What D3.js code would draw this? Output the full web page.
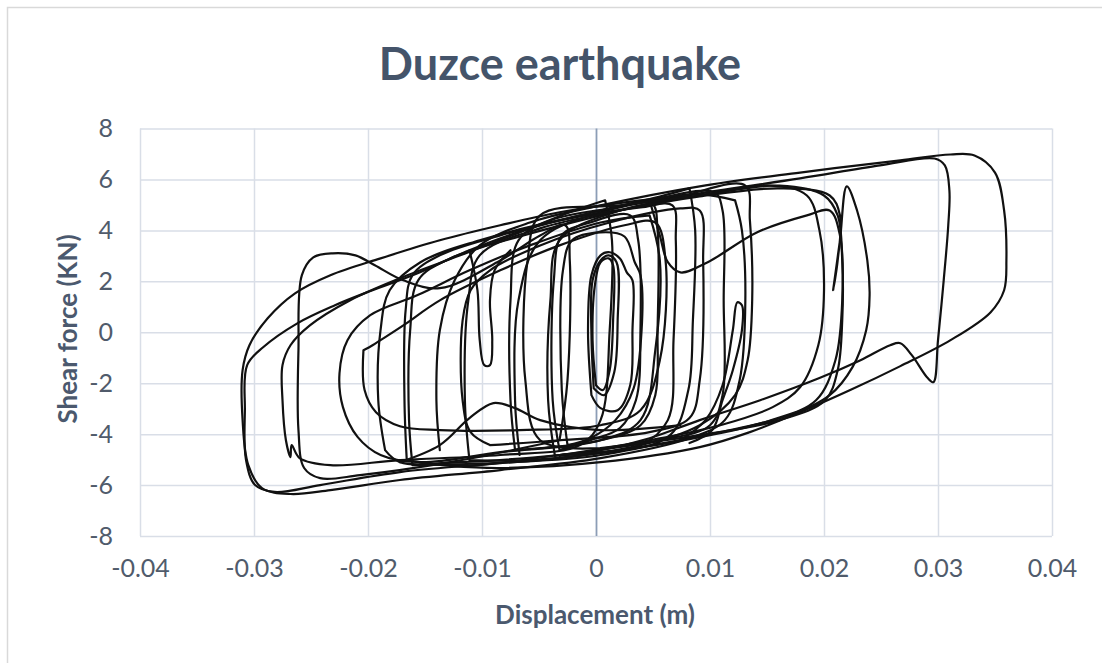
<!DOCTYPE html>
<html><head><meta charset="utf-8">
<script src="https://cdn.jsdelivr.net/npm/d3@7"></script>
<style>
html,body{margin:0;padding:0;background:#fff;}
svg{display:block;}
</style></head>
<body>
<svg id="chart" width="1102" height="663"></svg>
<script>
// ---------- data ----------
const titleText = "Duzce earthquake";
const xLabel = "Displacement (m)";
const yLabel = "Shear force (KN)";
const xTicks = [-0.04, -0.03, -0.02, -0.01, 0, 0.01, 0.02, 0.03, 0.04];
const yTicks = [-8, -6, -4, -2, 0, 2, 4, 6, 8];

// hysteresis cycles: [displacement (m), shear force (kN)]
const cycleOuterRight = [[-0.0128,-5.25],[-0.0084,-5.33],[0.0004,-5.10],[0.0091,-4.51],[0.0135,-3.92],[0.0179,-3.14],[0.0223,-2.27],[0.0267,-1.33],[0.0311,-0.31],[0.0346,0.78],[0.0358,1.65],[0.0360,2.82],[0.0358,4.78],[0.0350,6.27],[0.0332,6.94],[0.0311,6.98],[0.0267,6.75],[0.0179,6.27],[0.0091,5.73],[0.0004,4.98],[-0.0058,4.31],[-0.0102,3.41],[-0.0124,2.04],[-0.0137,0.08],[-0.0140,-2.67],[-0.0137,-4.63]];
const cycleSecondRight = [[-0.0032,-4.86],[0.0004,-4.63],[0.0047,-4.16],[0.0091,-3.45],[0.0144,-2.67],[0.0196,-1.80],[0.0232,-1.10],[0.0258,-0.51],[0.0267,-0.43],[0.0277,-0.90],[0.0291,-1.80],[0.0296,-1.96],[0.0300,-0.31],[0.0305,2.04],[0.0309,4.20],[0.0310,5.57],[0.0306,6.55],[0.0297,6.82],[0.0249,6.55],[0.0179,6.04],[0.0091,5.45],[0.0004,4.71],[-0.0049,3.61],[-0.0068,1.25],[-0.0071,-2.67],[-0.0067,-4.82]];
const cycleOuterLeft = [[0.0122,5.18],[0.0128,4.0],[0.0131,1.25],[0.0126,-1.88],[0.0113,-3.45],[0.0082,-4.16],[0.0004,-4.94],[-0.0084,-5.41],[-0.0172,-5.80],[-0.0233,-6.20],[-0.0268,-6.35],[-0.0293,-6.12],[-0.0305,-5.22],[-0.0310,-3.45],[-0.0310,-1.49],[-0.0304,-0.51],[-0.0288,0.55],[-0.0264,1.53],[-0.0233,2.24],[-0.0189,2.90],[-0.0137,3.61],[-0.0084,4.20],[-0.0032,4.71],[0.0039,5.18],[0.0091,5.41],[0.0122,5.18]];
const cycleSecondLeft = [[0.0082,5.65],[0.0087,4.0],[0.0085,0.47],[0.0081,-2.27],[0.0065,-4.04],[0.0004,-4.82],[-0.0084,-5.14],[-0.0172,-5.49],[-0.0242,-6.0],[-0.0282,-6.27],[-0.0299,-6.0],[-0.0307,-5.02],[-0.0308,-3.06],[-0.0306,-1.29],[-0.0292,-0.59],[-0.0262,0.35],[-0.0229,1.06],[-0.0196,1.65],[-0.0157,2.31],[-0.0111,3.22],[-0.0058,4.08],[0.0004,4.78],[0.0056,5.33],[0.0082,5.65]];
const cycleBump = [[-0.0032,-4.24],[-0.0128,-5.10],[-0.0207,-5.61],[-0.0242,-5.73],[-0.0256,-5.33],[-0.0261,-3.84],[-0.0261,-0.71],[-0.0258,2.24],[-0.0248,2.94],[-0.0231,3.10],[-0.0211,3.02],[-0.0194,2.63],[-0.0169,2.04],[-0.0137,1.73],[-0.0084,2.82],[-0.0049,3.80],[-0.0027,4.20],[-0.0023,2.82],[-0.0025,-1.88],[-0.0032,-4.24]];
const cycleSpike = [[0.0008,5.18],[0.0014,3.61],[0.0012,0.08],[0.0004,-3.45],[-0.0014,-4.43],[-0.0084,-4.82],[-0.0172,-5.02],[-0.0233,-5.22],[-0.0260,-4.94],[-0.0267,-4.43],[-0.0268,-4.90],[-0.0272,-4.24],[-0.0275,-2.67],[-0.0275,-1.29],[-0.0268,-0.51],[-0.0251,0.27],[-0.0216,1.25],[-0.0172,2.12],[-0.0119,3.02],[-0.0067,3.92],[-0.0023,4.71],[0.0008,5.18]];
const cycleRoundLeft = [[0.0047,4.59],[0.0056,2.82],[0.0052,-0.71],[0.0039,-3.45],[0.0004,-4.24],[-0.0084,-4.71],[-0.0154,-5.10],[-0.0189,-4.82],[-0.0209,-4.12],[-0.0222,-2.94],[-0.0225,-1.61],[-0.0218,-0.31],[-0.0198,0.67],[-0.0157,1.45],[-0.0111,2.43],[-0.0058,3.41],[0.0004,4.31],[0.0047,4.59]];
const cycleStepLeft = [[-0.0204,-0.71],[-0.0196,-0.51],[-0.0189,-0.31],[-0.0169,0.27],[-0.0137,1.25],[-0.0084,2.43],[-0.0032,3.41],[0.0025,4.20],[0.0052,4.31],[0.0061,2.82],[0.0056,-1.10],[0.0039,-3.06],[0.0004,-3.65],[-0.0067,-3.84],[-0.0137,-3.84],[-0.0172,-3.69],[-0.0193,-3.14],[-0.0203,-2.27],[-0.0204,-0.71]];
const cycle380 = [[-0.0185,-4.63],[-0.0191,-2.67],[-0.0189,0.08],[-0.0181,1.65],[-0.0154,2.75],[-0.0102,3.61],[-0.0032,4.39],[0.0039,4.90],[0.0067,4.98],[0.0070,3.61],[0.0068,-0.31],[0.0063,-3.45],[0.0039,-4.43],[-0.0032,-4.82],[-0.0119,-5.10],[-0.0172,-5.10],[-0.0185,-4.63]];
const cycle407 = [[-0.0166,-5.02],[-0.0168,-2.67],[-0.0167,0.86],[-0.0161,2.24],[-0.0137,3.02],[-0.0084,3.80],[-0.0014,4.59],[0.0047,5.18],[0.0104,5.49],[0.0111,4.78],[0.0112,1.25],[0.0111,-2.47],[0.0100,-3.65],[0.0056,-4.24],[-0.0032,-4.82],[-0.0119,-5.25],[-0.0166,-5.02]];
const cycle410 = [[-0.0161,-5.22],[-0.0164,-3.45],[-0.0163,0.08],[-0.0156,2.04],[-0.0128,2.90],[-0.0067,3.76],[0.0004,4.59],[0.0074,5.33],[0.0131,5.76],[0.0135,4.39],[0.0137,1.25],[0.0133,-1.10],[0.0122,-2.47],[0.0091,-3.65],[0.0039,-4.43],[-0.0049,-5.02],[-0.0161,-5.22]];
const cycle463 = [[-0.0093,-4.43],[-0.0110,-3.92],[-0.0117,-2.67],[-0.0117,0.47],[-0.0110,1.65],[-0.0093,2.43],[-0.0049,3.41],[0.0012,4.31],[0.0074,4.86],[0.0091,4.78],[0.0094,2.82],[0.0091,-1.88],[0.0082,-3.37],[0.0047,-3.92],[-0.0032,-4.24],[-0.0093,-4.43]];
const cycleFinger = [[-0.0111,3.22],[-0.0104,1.65],[-0.0102,-0.31],[-0.0098,-1.29],[-0.0093,-1.29],[-0.0091,-0.31],[-0.0093,1.25],[-0.0089,2.43],[-0.0075,3.22]];
const cycle515 = [[-0.0071,-4.63],[-0.0075,-2.67],[-0.0075,1.25],[-0.0068,3.61],[-0.0040,4.39],[0.0012,4.86],[0.0049,5.06],[0.0054,4.0],[0.0054,0.08],[0.0052,-2.47],[0.0039,-3.65],[0.0004,-4.24],[-0.0049,-4.55],[-0.0071,-4.63]];
const cycle555 = [[-0.0032,-4.63],[-0.0038,-2.67],[-0.0037,2.04],[-0.0030,3.80],[-0.0005,4.31],[0.0030,4.59],[0.0037,3.61],[0.0039,0.08],[0.0035,-2.67],[0.0021,-3.76],[-0.0005,-4.24],[-0.0032,-4.63]];
const cycle565 = [[-0.0025,-4.43],[-0.0030,-2.27],[-0.0029,2.43],[-0.0021,3.61],[0.0004,3.92],[0.0025,3.76],[0.0034,2.75],[0.0039,2.24],[0.0040,0.08],[0.0033,-2.20],[0.0017,-3.45],[-0.0005,-4.16],[-0.0025,-4.43]];
const cycleCentreA = [[0.0000,-2.08],[-0.0003,-0.31],[-0.0001,1.84],[0.0004,2.75],[0.0011,2.90],[0.0015,2.63],[0.0015,0.47],[0.0012,-1.49],[0.0006,-2.27],[0.0000,-2.08]];
const cycleCentreB = [[-0.0004,-2.47],[-0.0007,0.08],[-0.0004,2.24],[0.0004,3.02],[0.0012,3.14],[0.0021,2.90],[0.0027,2.35],[0.0032,2.04],[0.0032,0.08],[0.0030,-2.08],[0.0019,-3.06],[0.0004,-2.98],[-0.0004,-2.47]];
const cycleCentreC = [[-0.0002,-2.20],[-0.0004,-0.12],[-0.0003,2.04],[0.0004,2.82],[0.0011,3.02],[0.0018,2.75],[0.0019,0.47],[0.0016,-1.57],[0.0007,-2.47],[-0.0002,-2.20]];
const cycleRoundRight = [[-0.0036,-4.86],[-0.0042,-2.67],[-0.0040,1.25],[-0.0032,3.61],[0.0021,4.78],[0.0091,5.37],[0.0153,5.76],[0.0185,5.37],[0.0196,4.0],[0.0200,1.65],[0.0195,-0.51],[0.0179,-2.16],[0.0155,-2.94],[0.0109,-3.65],[0.0047,-4.24],[-0.0036,-4.86]];
const cyclePeak = [[-0.0111,-5.02],[-0.0115,-2.67],[-0.0112,1.25],[-0.0102,3.02],[-0.0049,4.08],[0.0021,4.78],[0.0091,5.33],[0.0161,5.65],[0.0205,5.37],[0.0214,4.59],[0.0212,2.82],[0.0208,1.65],[0.0214,3.61],[0.0220,5.73],[0.0229,4.78],[0.0238,2.82],[0.0240,1.45],[0.0237,0.08],[0.0225,-1.37],[0.0205,-2.47],[0.0170,-3.25],[0.0109,-3.92],[0.0021,-4.63],[-0.0058,-5.02],[-0.0111,-5.02]];
const cycleSpikesRight = [[0.0004,-4.55],[0.0091,-4.04],[0.0161,-3.45],[0.0201,-2.67],[0.0212,-1.49],[0.0216,0.47],[0.0216,2.82],[0.0212,4.59],[0.0200,5.37],[0.0161,5.76],[0.0091,5.37],[0.0021,4.98],[-0.0049,4.59],[-0.0060,2.82],[-0.0062,-1.88],[-0.0049,-4.24],[0.0004,-4.55]];
const cycleDiagonal = [[0.0047,5.18],[0.0056,3.80],[0.0063,2.75],[0.0074,2.35],[0.0098,2.75],[0.0141,3.92],[0.0185,4.59],[0.0205,4.78],[0.0214,3.80],[0.0216,1.25],[0.0210,-1.10],[0.0193,-2.67],[0.0154,-3.45],[0.0091,-4.12],[0.0021,-4.63],[-0.0032,-4.82]];
const cycleTear = [[0.0074,-4.24],[0.0096,-3.45],[0.0111,-2.08],[0.0120,0.08],[0.0124,1.18],[0.0128,1.06],[0.0128,0.08],[0.0120,-1.49],[0.0111,-2.67],[0.0102,-3.84],[0.0082,-4.35]];
const cycleHump = [[-0.0172,-5.10],[-0.0137,-4.43],[-0.0111,-3.37],[-0.0090,-2.78],[-0.0071,-2.98],[-0.0049,-3.45],[0.0004,-3.84],[0.0074,-3.65]];

const cycles = [cycleOuterRight, cycleSecondRight, cycleOuterLeft, cycleSecondLeft, cycleBump, cycleSpike,
  cycleRoundLeft, cycleStepLeft, cycle380, cycle407, cycle410, cycle463, cycleFinger, cycle515, cycle555,
  cycle565, cycleCentreA, cycleCentreB, cycleCentreC, cycleRoundRight, cyclePeak, cycleSpikesRight,
  cycleDiagonal, cycleTear, cycleHump];

// ---------- layout ----------
const svg = d3.select("#chart");
const W = 1102, H = 663;
const m = {left: 140, right: 50, top: 128.5, bottom: 127};
const iw = W - m.left - m.right, ih = H - m.top - m.bottom;

svg.append("rect").attr("x", 0).attr("y", 0).attr("width", W).attr("height", H).attr("fill", "#fff");
// chart frame
svg.append("rect").attr("x", 7.5).attr("y", 7.5).attr("width", W + 20).attr("height", H + 20)
  .attr("fill", "none").attr("stroke", "#d9d9d9").attr("stroke-width", 1.5);

const x = d3.scaleLinear().domain([-0.04, 0.04]).range([0, iw]);
const y = d3.scaleLinear().domain([-8, 8]).range([ih, 0]);

const g = svg.append("g").attr("transform", `translate(${m.left},${m.top})`);
const font = "Lato, 'Open Sans', sans-serif";
const tickColor = "#505b6b";
const gridColor = "#d9dee7";

// y axis with gridlines
const yAxis = g.append("g").call(d3.axisLeft(y).tickValues(yTicks).tickSize(-iw).tickPadding(27).tickFormat(d => String(d)));
yAxis.select(".domain").remove();
yAxis.selectAll(".tick line").attr("stroke", gridColor).attr("stroke-width", 1.5);
yAxis.selectAll(".tick text").attr("fill", tickColor).style("font-family", font).style("font-size", "25px");

// x axis with gridlines
const xAxis = g.append("g").attr("transform", `translate(0,${ih})`)
  .call(d3.axisBottom(x).tickValues(xTicks).tickSize(-ih).tickPadding(23).tickFormat(d => String(d)));
xAxis.select(".domain").remove();
xAxis.selectAll(".tick line").attr("stroke", d => d === 0 ? "#8c9db6" : gridColor).attr("stroke-width", d => d === 0 ? 1.8 : 1.5);
xAxis.selectAll(".tick text").attr("fill", tickColor).style("font-family", font).style("font-size", "25px");

// hysteresis curves
const line = d3.line().x(d => x(d[0])).y(d => y(d[1])).curve(d3.curveCatmullRom.alpha(0.5));
g.append("g").selectAll("path").data(cycles).join("path")
  .attr("d", line).attr("fill", "none").attr("stroke", "#111")
  .attr("stroke-width", 2.2).attr("stroke-linejoin", "round").attr("stroke-linecap", "round");

// titles
svg.append("text").attr("x", 560).attr("y", 80).attr("text-anchor", "middle")
  .attr("fill", "#44546a").style("font-family", font).style("font-weight", "bold").style("font-size", "45px")
  .text(titleText);
svg.append("text").attr("x", 595).attr("y", 624).attr("text-anchor", "middle")
  .attr("fill", "#4b596e").style("font-family", font).style("font-weight", "bold").style("font-size", "26px")
  .text(xLabel);
svg.append("text").attr("transform", "translate(77,329) rotate(-90)").attr("text-anchor", "middle")
  .attr("fill", "#4b596e").style("font-family", font).style("font-weight", "bold").style("font-size", "26px")
  .text(yLabel);
</script>
</body></html>
